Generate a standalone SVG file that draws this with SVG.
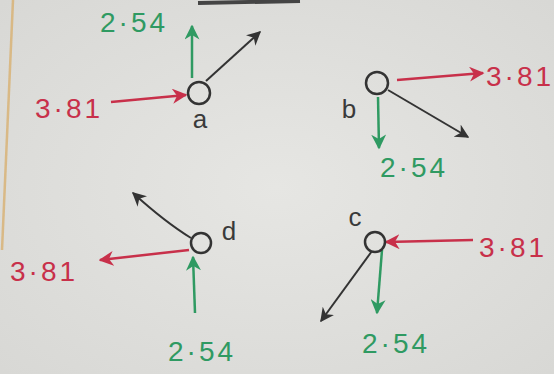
<svg xmlns="http://www.w3.org/2000/svg" width="554" height="374" viewBox="0 0 554 374">
<defs>
<style>
.t{font-family:"Liberation Sans",Arial,sans-serif;font-size:28px;letter-spacing:3px}
.r{fill:#c8304a}
.g{fill:#2f9a62}
.k{fill:#3a3a3a;font-family:"Liberation Sans",Arial,sans-serif;font-size:26px}
.lr{stroke:#c8304a;stroke-width:2.5;fill:none}
.lg{stroke:#2f9a62;stroke-width:2.5;fill:none}
.lk{stroke:#333;stroke-width:2;fill:none}
.node{fill:none;stroke:#333;stroke-width:2.5}
</style>
<marker id="ar" viewBox="0 0 10 10" refX="9" refY="5" markerWidth="6" markerHeight="6" orient="auto-start-reverse" markerUnits="strokeWidth"><path d="M0,0 L10,5 L0,10 L3,5 Z" fill="#c8304a"/></marker>
<marker id="ag" viewBox="0 0 10 10" refX="9" refY="5" markerWidth="6" markerHeight="6" orient="auto-start-reverse" markerUnits="strokeWidth"><path d="M0,0 L10,5 L0,10 L3,5 Z" fill="#2f9a62"/></marker>
<marker id="ak" viewBox="0 0 10 10" refX="9" refY="5" markerWidth="7" markerHeight="7" orient="auto-start-reverse" markerUnits="strokeWidth"><path d="M0,0 L10,5 L0,10 L3,5 Z" fill="#333"/></marker>
<radialGradient id="bg" cx="0.5" cy="0.5" r="0.7"><stop offset="0" stop-color="#e6e6e3"/><stop offset="1" stop-color="#d8d8d5"/></radialGradient>
</defs>
<rect width="554" height="374" fill="url(#bg)"/>
<path d="M13,0 L2,250" stroke="#d8b070" stroke-width="2.5" fill="none" opacity="0.8"/>
<path d="M198,3 L300,1" stroke="#444" stroke-width="4" fill="none"/>

<g id="connectors">
<path class="lr" d="M111,102 L186,95" marker-end="url(#ar)"/>
<path class="lg" d="M192,78 L192,26" marker-end="url(#ag)"/>
<path class="lk" d="M206,81 L260,32" marker-end="url(#ak)"/>

<path class="lr" d="M397,80 L483,73" marker-end="url(#ar)"/>
<path class="lg" d="M378,97 L379,148" marker-end="url(#ag)"/>
<path class="lk" d="M388,90 L468,137" marker-end="url(#ak)"/>

<path class="lr" d="M189,250 L100,260" marker-end="url(#ar)"/>
<path class="lg" d="M195,313 L193,257" marker-end="url(#ag)"/>
<path class="lk" d="M191,238 Q165,222 133,193" marker-end="url(#ak)"/>

<path class="lr" d="M473,240 L386,242" marker-end="url(#ar)"/>
<path class="lg" d="M382,250 L377,313" marker-end="url(#ag)"/>
<path class="lk" d="M372,251 L321,321" marker-end="url(#ak)"/>
</g>

<g id="node-a">
<circle class="node" cx="199" cy="93" r="11"/>
<text class="k" x="200" y="128" text-anchor="middle">a</text>
<text class="t g" x="100" y="32">2·54</text>
<text class="t r" x="35" y="118">3·81</text>
</g>
<g id="node-b">
<circle class="node" cx="377" cy="83" r="11"/>
<text class="k" x="349" y="118" text-anchor="middle">b</text>
<text class="t r" x="486" y="86">3·81</text>
<text class="t g" x="380" y="177">2·54</text>
</g>
<g id="node-d">
<circle class="node" cx="201" cy="243" r="10"/>
<text class="k" x="229" y="240" text-anchor="middle">d</text>
<text class="t r" x="10" y="281">3·81</text>
<text class="t g" x="168" y="361">2·54</text>
</g>
<g id="node-c">
<circle class="node" cx="375" cy="242" r="10"/>
<text class="k" x="355" y="226" text-anchor="middle">c</text>
<text class="t r" x="479" y="257">3·81</text>
<text class="t g" x="362" y="353">2·54</text>
</g>
</svg>
